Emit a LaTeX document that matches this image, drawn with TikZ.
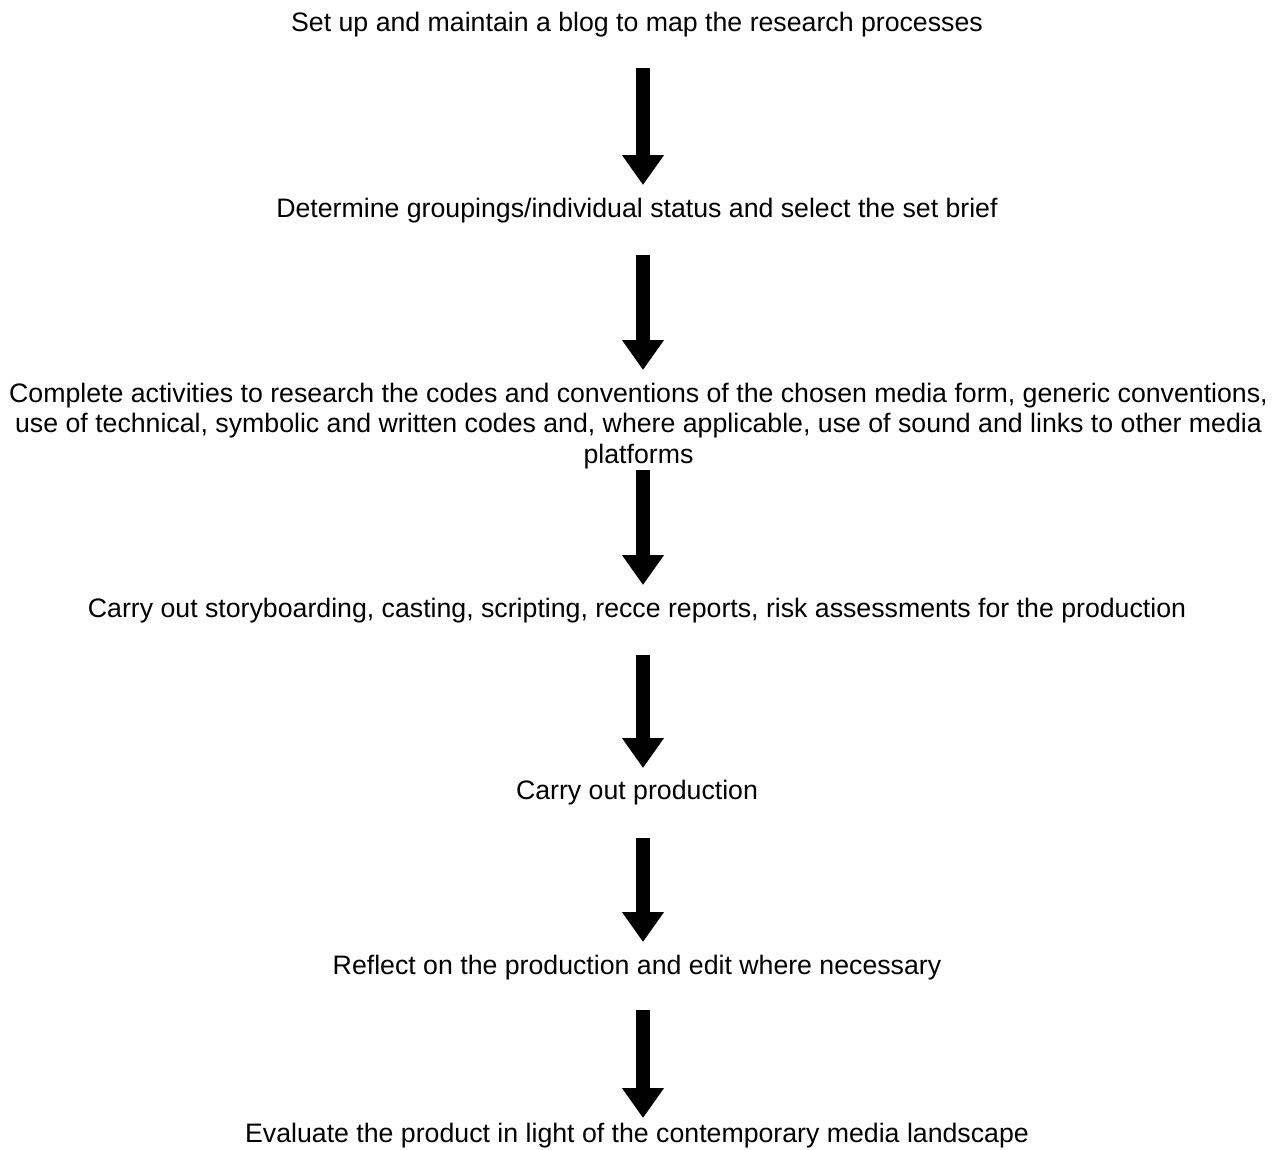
\documentclass[tikz,border=0pt]{standalone}
\usepackage{fontspec}
\setmainfont{Liberation Sans}
\usetikzlibrary{arrows.meta}
\begin{document}
\begin{tikzpicture}[x=1pt,y=-1pt,
  step text/.style={font=\fontsize{26.7}{30.5}\selectfont, align=center, inner sep=0pt, anchor=center, text=black},
  bigarrow/.style={line width=14pt, -{Triangle[width=40pt,length=30pt]}}]
\useasboundingbox (0,0) rectangle (1277,1149);
\node[step text] (t1) at (637,25) {Set up and maintain a blog to map the research processes};
\node[step text] (t2) at (637,211) {Determine groupings/individual status and select the set brief};
\node[step text] (t3) at (638.5,426) {Complete activities to research the codes and conventions of the chosen media form, generic conventions,\\use of technical, symbolic and written codes and, where applicable, use of sound and links to other media\\platforms};
\node[step text] (t4) at (637,611) {Carry out storyboarding, casting, scripting, recce reports, risk assessments for the production};
\node[step text] (t5) at (637,793) {Carry out production};
\node[step text] (t6) at (637,968) {Reflect on the production and edit where necessary};
\node[step text] (t7) at (637,1136) {Evaluate the product in light of the contemporary media landscape};
\coordinate (s1) at (643,68);   \coordinate (e1) at (643,185);
\coordinate (s2) at (643,255);  \coordinate (e2) at (643,370);
\coordinate (s3) at (643,470);  \coordinate (e3) at (643,585);
\coordinate (s4) at (643,655);  \coordinate (e4) at (643,768);
\coordinate (s5) at (643,838);  \coordinate (e5) at (643,942);
\coordinate (s6) at (643,1010); \coordinate (e6) at (643,1118);
\foreach \i in {1,...,6} \draw[bigarrow] (s\i) -- (e\i);
\end{tikzpicture}
\end{document}
